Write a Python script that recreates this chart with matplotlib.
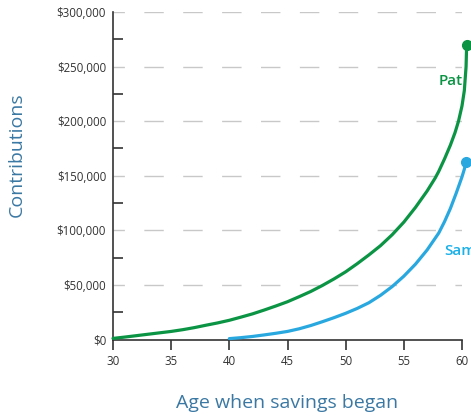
import matplotlib
matplotlib.use('Agg')
from matplotlib import pyplot as plt
from matplotlib.ticker import MultipleLocator, FuncFormatter

# values (age, contributions in $1000s)
pat_age = [30, 31, 32, 33, 34, 35, 36, 37, 38, 39, 40, 41, 42, 43, 44, 45,
           46, 47, 48, 49, 50, 51, 52, 53, 54, 55, 56, 57, 57.7, 58, 58.5,
           59, 59.4, 59.7, 60.0, 60.2, 60.35, 60.4]
pat_value = [1.0, 2.2, 3.5, 4.8, 6.1, 7.4, 9.0, 10.9, 13.1, 15.2, 17.6, 20.5,
             23.5, 27.0, 30.7, 34.6, 39.2, 44.0, 49.5, 55.5, 62.0, 69.5, 77.5,
             86.0, 96.0, 107.5, 121, 136, 148, 154, 165.5, 178, 189.5, 200,
             214, 228, 250, 270]

sam_age = [40, 41, 42, 43, 44, 45, 46, 47, 48, 49, 50, 51, 52, 53, 54, 55,
           56, 57, 58, 58.5, 59, 59.5, 60.0, 60.2, 60.35]
sam_value = [0.8, 1.7, 2.8, 4.2, 5.7, 7.4, 9.8, 12.8, 16.3, 20.0, 24.0, 28.5,
             33.7, 40.5, 48.5, 58, 69, 82, 97.5, 108, 120, 134, 149, 156, 162.5]

x_ticks = [30, 35, 40, 45, 50, 55, 60]
y_ticks = [0, 50, 100, 150, 200, 250, 300]

green = '#0b9444'
blue = '#29a8e0'
label_blue = '#3a78a3'
dark = '#333333'

plt.rcParams['font.family'] = ['Open Sans', 'DejaVu Sans']

fig = plt.figure(figsize=(4.71, 4.17), dpi=100)
ax = fig.add_axes([113 / 471, 1 - 339.5 / 417, 349 / 471, 327.5 / 417])

ax.set_xlim(30, 60)
ax.set_ylim(0, 300)

for y in y_ticks[1:]:
    ax.axhline(y, color='#c8c8c8', lw=1.0, linestyle=(5.8, (14, 14)), zorder=1)

ax.plot(pat_age, pat_value, color=green, lw=2.3, clip_on=False, zorder=3,
        solid_capstyle='round', solid_joinstyle='round')
ax.plot(pat_age[-1], pat_value[-1], 'o', color=green, ms=7, clip_on=False, zorder=4)
ax.plot(sam_age, sam_value, color=blue, lw=2.3, clip_on=False, zorder=3,
        solid_capstyle='round', solid_joinstyle='round')
ax.plot(sam_age[-1], sam_value[-1], 'o', color=blue, ms=7, clip_on=False, zorder=4)

ax.text(57.95, 237, 'Pat', color=green, fontsize=11, fontweight='semibold',
        ha='left', va='center')
ax.text(58.45, 81, 'Sam', color='#1ab0e8', fontsize=11, fontweight='semibold',
        ha='left', va='center')

for s in ['top', 'right']:
    ax.spines[s].set_visible(False)
for s in ['left', 'bottom']:
    ax.spines[s].set_color(dark)
    ax.spines[s].set_linewidth(1.2)

ax.set_xticks(x_ticks)
ax.set_yticks(y_ticks)
ax.yaxis.set_minor_locator(MultipleLocator(50, offset=25))
ax.yaxis.set_major_formatter(FuncFormatter(lambda v, p: '${:,.0f}'.format(v * 1000)))
ax.tick_params(axis='x', direction='out', length=7, width=1.2, color=dark,
               labelsize=8.3, labelcolor=dark, pad=4)
ax.tick_params(axis='y', which='major', length=0, labelsize=8.3,
               labelcolor=dark, pad=5)
ax.tick_params(axis='y', which='minor', direction='in', length=7, width=1.2,
               color=dark)

ax.set_xlabel('Age when savings began', color=label_blue, fontsize=14)
ax.xaxis.set_label_coords(0.5, -0.165)
ax.set_ylabel('Contributions', color=label_blue, fontsize=14)
ax.yaxis.set_label_coords(-0.249, 0.563)

fig.savefig('out.png', dpi=100)
